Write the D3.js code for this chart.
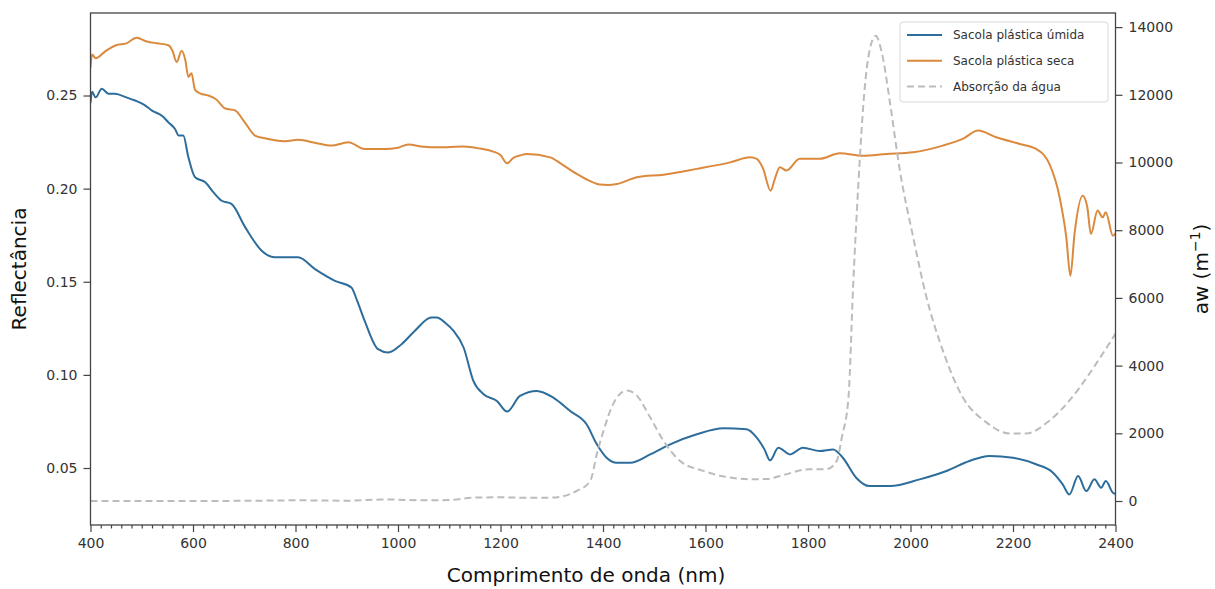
<!DOCTYPE html>
<html>
<head>
<meta charset="utf-8">
<script src="https://cdn.jsdelivr.net/npm/d3@7"></script>
<style>
  html, body { margin: 0; padding: 0; background: #fff; }
  svg { display: block; }
  text { font-family: "DejaVu Sans", sans-serif; }
</style>
</head>
<body>
<svg id="chart" width="1215" height="589"></svg>
<script>
// ---------- DATA ----------
const seriesNames = ["Sacola plástica úmida", "Sacola plástica seca", "Absorção da água"];

const wetNm = [400,403,410,422,435,448,470,487,505,520,540,552,565,572,581,591,604,624,640,656,675,702,734,760,805,838,877,909,920,935,961,981,1007,1033,1065,1076,1092,1108,1128,1147,1167,1193,1213,1238,1271,1303,1336,1368,1388,1407,1427,1453,1492,1531,1583,1635,1680,1700,1715,1726,1742,1765,1790,1823,1849,1868,1894,1920,1960,2018,2070,2115,2154,2200,2245,2278,2297,2310,2327,2343,2359,2372,2381,2395,2400];
const wetR  = [0.246,0.252,0.249,0.2536,0.251,0.2509,0.249,0.2473,0.245,0.2419,0.239,0.2356,0.232,0.2285,0.2285,0.2168,0.2061,0.2034,0.198,0.1935,0.1918,0.1792,0.1667,0.1631,0.1631,0.1568,0.1505,0.1469,0.140,0.129,0.1138,0.112,0.1165,0.1237,0.1308,0.1308,0.128,0.1237,0.1147,0.0968,0.0896,0.086,0.0803,0.0887,0.0914,0.0878,0.0806,0.0735,0.0627,0.0555,0.0528,0.0528,0.0573,0.0627,0.0681,0.0713,0.0708,0.0663,0.060,0.0541,0.0609,0.0573,0.0609,0.0591,0.060,0.0555,0.0448,0.0403,0.0403,0.0439,0.0484,0.0538,0.0565,0.0555,0.052,0.0475,0.0412,0.0358,0.0457,0.0376,0.0439,0.0394,0.043,0.0367,0.036];

const dryNm = [400,403,410,430,450,470,490,510,530,552,560,568,578,585,591,597,604,615,630,645,663,682,700,721,740,760,780,805,840,870,903,935,974,1000,1020,1050,1078,1128,1160,1186,1200,1213,1225,1240,1251,1297,1320,1349,1375,1394,1410,1427,1466,1518,1583,1648,1687,1700,1712,1727,1735,1745,1758,1784,1823,1862,1907,1953,2005,2063,2102,2132,2167,2213,2245,2271,2291,2304,2312,2320,2336,2345,2352,2365,2375,2381,2395,2400];
const dryR  = [0.265,0.272,0.270,0.274,0.277,0.278,0.281,0.279,0.278,0.277,0.274,0.268,0.274,0.269,0.260,0.262,0.253,0.251,0.250,0.248,0.243,0.242,0.236,0.2285,0.227,0.226,0.2255,0.2262,0.2245,0.2231,0.2249,0.2213,0.2213,0.222,0.2237,0.2225,0.2222,0.2226,0.2215,0.2199,0.218,0.2136,0.2165,0.218,0.2186,0.2168,0.213,0.2079,0.204,0.2022,0.202,0.2025,0.2061,0.2075,0.2106,0.2141,0.2168,0.216,0.211,0.1989,0.205,0.2115,0.2097,0.216,0.216,0.219,0.2177,0.2186,0.2195,0.2231,0.2267,0.2312,0.2276,0.224,0.2213,0.2133,0.1953,0.1738,0.1532,0.1756,0.1962,0.190,0.1756,0.1882,0.1846,0.1873,0.1747,0.176];

const waterNm = [400,500,600,700,800,900,960,980,1000,1050,1100,1150,1200,1250,1300,1349,1375,1388,1401,1420,1446,1466,1492,1518,1550,1596,1648,1687,1720,1750,1803,1836,1856,1866,1879,1888,1898,1911,1924,1932,1944,1960,1979,2005,2031,2063,2102,2148,2193,2226,2271,2310,2349,2375,2400];
const waterAw = [0,0,2,5,20,10,40,48,40,20,30,100,110,95,100,300,590,1385,2076,2868,3263,3114,2472,1780,1186,890,692,643,650,760,940,940,1186,1878,3064,6327,9293,12259,13546,13743,13249,11766,9788,7810,6030,4449,3064,2323,1996,1996,2373,2966,3758,4351,4944];

const xTicks = [400,600,800,1000,1200,1400,1600,1800,2000,2200,2400];
const leftTicks = [0.05,0.10,0.15,0.20,0.25];
const rightTicks = [0,2000,4000,6000,8000,10000,12000,14000];

// ---------- LAYOUT ----------
const L = 90.5, R = 1115.5, T = 13, B = 525;
const colWet = "#2d6d9c", colDry = "#db893c", colWater = "#bcbcbc";
const axisCol = "#444";

const svg = d3.select("#chart");
const x = d3.scaleLinear().domain([400, 2400]).range([L, R]);
const yL = d3.scaleLinear().domain([0.0194, 0.2943]).range([B, T]);
const yR = d3.scaleLinear().domain([-709, 14417]).range([B, T]);

svg.append("clipPath").attr("id", "clip")
  .append("rect").attr("x", L).attr("y", T).attr("width", R - L).attr("height", B - T);

const plot = svg.append("g").attr("clip-path", "url(#clip)");

const lineL = (xs, ys) => d3.line().curve(d3.curveMonotoneX).x((d,i) => x(xs[i])).y((d,i) => yL(ys[i]))(xs);
const lineR = (xs, ys) => d3.line().curve(d3.curveMonotoneX).x((d,i) => x(xs[i])).y((d,i) => yR(ys[i]))(xs);

plot.append("path").attr("d", lineL(wetNm, wetR))
  .attr("fill", "none").attr("stroke", colWet).attr("stroke-width", 2).attr("stroke-linejoin", "round");
plot.append("path").attr("d", lineL(dryNm, dryR))
  .attr("fill", "none").attr("stroke", colDry).attr("stroke-width", 2).attr("stroke-linejoin", "round");
plot.append("path").attr("d", lineR(waterNm, waterAw))
  .attr("fill", "none").attr("stroke", colWater).attr("stroke-width", 2).attr("stroke-dasharray", "7,4");

// ---------- AXES ----------
function styleAxis(g) {
  g.selectAll(".domain").remove();
  g.selectAll(".tick line").attr("stroke", axisCol).attr("stroke-width", 1.2);
  g.selectAll(".tick text").attr("fill", "#333").style("font-size", "14px")
    .style("font-family", "'DejaVu Sans', sans-serif");
}

// minor x ticks
const minor = d3.range(400, 2401, 20).filter(v => v % 200 !== 0);
svg.append("g").attr("transform", `translate(0,${B})`)
  .call(d3.axisBottom(x).tickValues(minor).tickSize(3.5).tickFormat(""))
  .call(styleAxis);

svg.append("g").attr("transform", `translate(0,${B})`)
  .call(d3.axisBottom(x).tickValues(xTicks).tickSize(7).tickPadding(6).tickFormat(d3.format("d")))
  .call(styleAxis);

svg.append("g").attr("transform", `translate(${L},0)`)
  .call(d3.axisLeft(yL).tickValues(leftTicks).tickSize(7).tickPadding(6).tickFormat(d3.format(".2f")))
  .call(styleAxis);

svg.append("g").attr("transform", `translate(${R},0)`)
  .call(d3.axisRight(yR).tickValues(rightTicks).tickSize(7).tickPadding(6).tickFormat(d3.format("d")))
  .call(styleAxis);

// frame
svg.append("rect").attr("x", L).attr("y", T).attr("width", R - L).attr("height", B - T)
  .attr("fill", "none").attr("stroke", axisCol).attr("stroke-width", 1.3);

// axis labels
svg.append("text").attr("x", 586).attr("y", 582).attr("text-anchor", "middle")
  .style("font-size", "20px").attr("fill", "#111").text("Comprimento de onda (nm)");

svg.append("text").attr("transform", `translate(26,${(T + B) / 2}) rotate(-90)`)
  .attr("text-anchor", "middle").style("font-size", "20px").attr("fill", "#111").text("Reflectância");

const rl = svg.append("text").attr("transform", `translate(1208,${(T + B) / 2}) rotate(-90)`)
  .attr("text-anchor", "middle").style("font-size", "20px").attr("fill", "#111");
rl.append("tspan").text("aw (m");
rl.append("tspan").attr("dy", -8).style("font-size", "14px").text("−1");
rl.append("tspan").attr("dy", 8).text(")");

// ---------- LEGEND ----------
const lg = svg.append("g");
lg.append("rect").attr("x", 900).attr("y", 22).attr("width", 208).attr("height", 80)
  .attr("rx", 3).attr("fill", "#fff").attr("fill-opacity", 0.85)
  .attr("stroke", "#d8d8d8").attr("stroke-width", 1);
const legendItems = [
  {name: seriesNames[0], color: colWet, dash: null},
  {name: seriesNames[1], color: colDry, dash: null},
  {name: seriesNames[2], color: colWater, dash: "7,4"}
];
legendItems.forEach((it, i) => {
  const yy = 35 + i * 25.8;
  lg.append("line").attr("x1", 907).attr("x2", 942).attr("y1", yy).attr("y2", yy)
    .attr("stroke", it.color).attr("stroke-width", 2).attr("stroke-dasharray", it.dash);
  lg.append("text").attr("x", 953).attr("y", yy + 4).style("font-size", "12px")
    .attr("fill", "#333").text(it.name);
});
</script>
</body>
</html>
